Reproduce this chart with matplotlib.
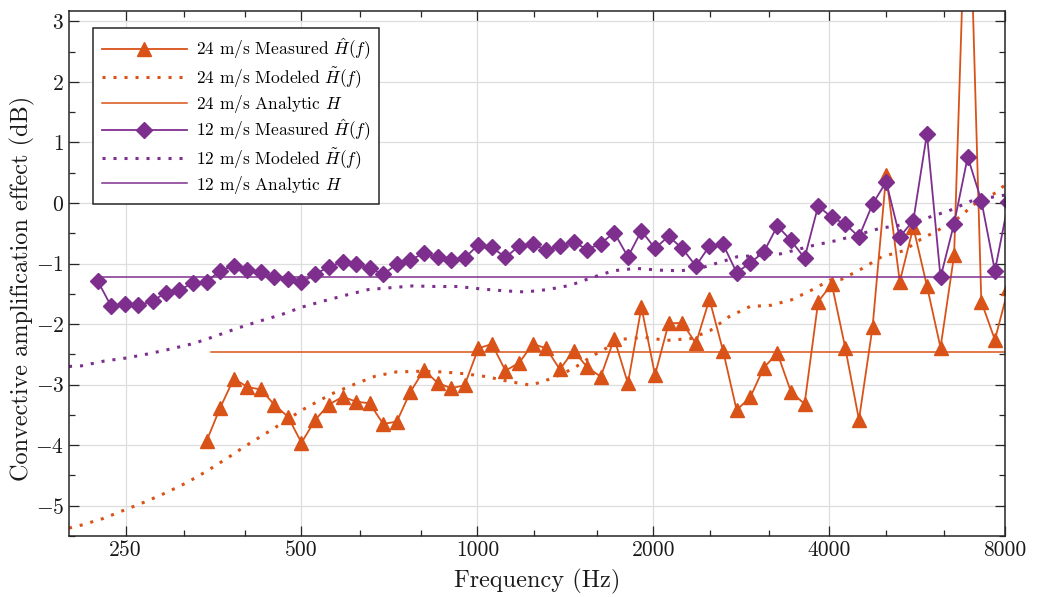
import matplotlib
matplotlib.use("Agg")
import matplotlib.pyplot as plt
from matplotlib.ticker import FixedLocator, NullFormatter, FixedFormatter

plt.rcParams['font.family'] = 'serif'
plt.rcParams['font.serif'] = ['cmr10', 'DejaVu Serif']
plt.rcParams['mathtext.fontset'] = 'cm'
plt.rcParams['axes.formatter.use_mathtext'] = True
plt.rcParams['axes.unicode_minus'] = True

# ---------------- data ----------------
freq_meas = [224, 236, 249, 263, 278, 293, 309, 326, 344, 363, 383, 404,
             426, 449, 474, 500, 528, 557, 588, 620, 654, 690, 728, 768,
             810, 855, 902, 951, 1004, 1059, 1117, 1179, 1244, 1312, 1384, 1461,
             1541, 1626, 1715, 1810, 1909, 2014, 2125, 2242, 2366, 2496, 2633, 2778,
             2931, 3092, 3262, 3442, 3631, 3831, 4042, 4264, 4499, 4747, 5008, 5284,
             5574, 5881, 6205, 6546, 6907, 7287, 7688, 8111]

meas_12 = [-1.29, -1.70, -1.67, -1.69, -1.62, -1.48, -1.44, -1.32, -1.30, -1.12, -1.04, -1.11,
           -1.14, -1.23, -1.26, -1.31, -1.18, -1.05, -0.98, -1.01, -1.08, -1.18, -1.01, -0.94,
           -0.83, -0.90, -0.95, -0.91, -0.69, -0.73, -0.90, -0.71, -0.68, -0.78, -0.71, -0.64,
           -0.77, -0.67, -0.49, -0.89, -0.46, -0.75, -0.55, -0.75, -1.04, -0.71, -0.68, -1.15,
           -0.99, -0.81, -0.38, -0.62, -0.91, -0.05, -0.24, -0.35, -0.56, -0.02, 0.35, -0.56,
           -0.29, 1.14, -1.23, -0.34, 0.76, 0.04, -1.12, 0.02]

freq_meas_24 = freq_meas[8:]
meas_24 = [-3.93, -3.38, -2.90, -3.04,
           -3.08, -3.33, -3.53, -3.96, -3.58, -3.33, -3.20, -3.28, -3.31, -3.65, -3.61, -3.12,
           -2.76, -2.97, -3.06, -3.01, -2.40, -2.33, -2.77, -2.64, -2.33, -2.40, -2.75, -2.44,
           -2.71, -2.87, -2.24, -2.98, -1.72, -2.84, -1.99, -1.98, -2.32, -1.59, -2.44, -3.42,
           -3.21, -2.72, -2.48, -3.12, -3.32, -1.63, -1.34, -2.40, -3.58, -2.05, 0.46, -1.30,
           -0.40, -1.37, -2.39, -0.86, 6.2, -1.63, -2.26, -1.40]

freq_mod_12 = [200, 210, 230, 251, 274, 299, 327, 356, 388, 421, 460, 501, 545, 597, 651,
               710, 776, 847, 927, 1015, 1107, 1208, 1320, 1443, 1562, 1708, 1870, 2045,
               2233, 2442, 2661, 2779, 3306, 3765, 4122, 4496, 4884, 5342, 5744, 6413,
               6994, 7648, 8000]
mod_12 = [-2.70, -2.69, -2.61, -2.56, -2.49, -2.41, -2.32, -2.20, -2.07, -1.96, -1.85, -1.72,
          -1.62, -1.52, -1.43, -1.40, -1.37, -1.38, -1.38, -1.42, -1.45, -1.47, -1.43, -1.36,
          -1.24, -1.12, -1.08, -1.11, -1.12, -1.06, -0.95, -0.89, -0.84, -0.70, -0.62, -0.52,
          -0.42, -0.36, -0.28, -0.13, 0.03, 0.10, 0.13]

freq_mod_24 = [200, 210, 229, 249, 271, 294, 318, 344, 371, 400, 432, 449, 501, 564, 614,
               669, 727, 796, 870, 951, 1039, 1135, 1236, 1348, 1462, 1571, 1640, 1770,
               1933, 2108, 2317, 2501, 2695, 2928, 3178, 3448, 3731, 4025, 4204, 4562,
               4918, 5363, 5742, 6171, 6652, 7134, 7720, 8000]
mod_24 = [-5.37, -5.32, -5.21, -5.07, -4.93, -4.78, -4.62, -4.43, -4.23, -4.02, -3.82, -3.72,
          -3.42, -3.15, -3.00, -2.86, -2.79, -2.78, -2.79, -2.82, -2.87, -2.95, -3.01, -2.89,
          -2.73, -2.53, -2.43, -2.25, -2.22, -2.27, -2.24, -2.11, -1.88, -1.71, -1.69, -1.60,
          -1.44, -1.27, -1.26, -1.08, -0.89, -0.79, -0.60, -0.44, -0.25, 0.00, 0.17, 0.30]

analytic_24 = -2.46
analytic_12 = -1.23
analytic_24_range = [350, 8200]
analytic_12_range = [224, 8200]

xtick_major = [250, 500, 1000, 2000, 4000, 8000]
xtick_minor = [315, 400, 630, 800, 1250, 1600, 2500, 3150, 5000, 6300]
ytick_major = [-5, -4, -3, -2, -1, 0, 1, 2, 3]

# ---------------- style ----------------
c24 = '#D95319'
c12 = '#7E2F8E'
axc = '#262626'

fig = plt.figure(figsize=(10.38, 5.97), dpi=100)
ax = fig.add_axes([69/1038, 61/597, 936/1038, 525/597])

ax.plot(freq_meas_24, meas_24, '-', color=c24, lw=1.3, marker='^', ms=10,
        mfc=c24, mec=c24, label=r'24 m/s Measured $\hat{H}(f)$')
ax.plot(freq_mod_24, mod_24, color=c24, lw=2.2, ls=(0, (1, 2.6)),
        label=r'24 m/s Modeled $\tilde{H}(f)$')
ax.plot(analytic_24_range, [analytic_24]*2, '-', color=c24, lw=1.1,
        label=r'24 m/s Analytic $H$')
ax.plot(freq_meas, meas_12, '-', color=c12, lw=1.3, marker='D', ms=8,
        mfc=c12, mec=c12, label=r'12 m/s Measured $\hat{H}(f)$')
ax.plot(freq_mod_12, mod_12, color=c12, lw=2.2, ls=(0, (1, 2.6)),
        label=r'12 m/s Modeled $\tilde{H}(f)$')
ax.plot(analytic_12_range, [analytic_12]*2, '-', color=c12, lw=1.1,
        label=r'12 m/s Analytic $H$')

ax.set_xscale('log')
ax.set_xlim(200, 8000)
ax.set_ylim(-5.5, 3.17)

ax.xaxis.set_major_locator(FixedLocator(xtick_major))
ax.xaxis.set_major_formatter(FixedFormatter([str(v) for v in xtick_major]))
ax.xaxis.set_minor_locator(FixedLocator(xtick_minor))
ax.xaxis.set_minor_formatter(NullFormatter())
ax.yaxis.set_major_locator(FixedLocator(ytick_major))
ax.yaxis.set_minor_locator(FixedLocator([v + 0.5 for v in range(-6, 3)]))

ax.grid(True, which='major', color='#dedede', lw=0.9)
ax.set_axisbelow(True)
ax.tick_params(which='both', direction='in', top=True, right=True, colors=axc,
               labelcolor='#1a1a1a', labelsize=15.5, width=0.9)
ax.tick_params(which='major', length=7)
ax.tick_params(which='minor', length=4)
for s in ax.spines.values():
    s.set_color(axc)
    s.set_linewidth(1.1)

ax.set_xlabel('Frequency (Hz)', fontsize=17.5, color='#1a1a1a', labelpad=6)
ax.set_ylabel('Convective amplification effect (dB)', fontsize=17.5, color='#1a1a1a')
ax.yaxis.set_label_coords(-0.036, 0.472)

leg = ax.legend(loc='upper left', bbox_to_anchor=(0.0256, 0.9676), borderaxespad=0,
                fontsize=12.5, handlelength=4.9, handletextpad=0.55, numpoints=1,
                fancybox=False, framealpha=1, edgecolor=axc, labelspacing=0.16,
                borderpad=0.5)
leg.get_frame().set_linewidth(1.1)

fig.savefig('out.png', dpi=100)
